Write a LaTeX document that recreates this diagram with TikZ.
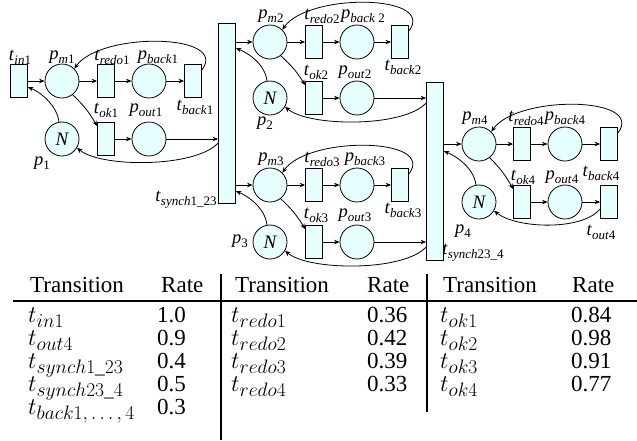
\RequirePackage{fix-cm}
\documentclass[tikz,border=0pt]{standalone}
\usepackage[no-math]{fontspec}
\setmainfont{Liberation Serif}
\usetikzlibrary{arrows.meta,calc}
\definecolor{cellfill}{RGB}{232,255,255}
\newcommand{\lb}[3]{\textit{#1}\raisebox{-4pt}{\fontsize{13}{13}\selectfont\textit{#2}#3}}
\newcommand{\tb}[1]{{\fontsize{24}{26}\selectfont$t$}\raisebox{-5pt}{\fontsize{19.5}{20}\selectfont$#1$}}
\begin{document}
\begin{tikzpicture}[x=1pt,y=-1pt,
  place/.style={circle,draw,fill=cellfill,minimum size=34pt,inner sep=0pt,line width=0.8pt},
  trans/.style={rectangle,draw,fill=cellfill,minimum width=17pt,minimum height=33pt,inner sep=0pt,line width=0.8pt},
  bigtrans/.style={rectangle,draw,fill=cellfill,minimum width=17pt,inner sep=0pt,line width=0.8pt},
  arr/.style={-{Stealth[length=5.5pt,width=4.5pt]},line width=0.8pt},
  lab/.style={inner sep=0pt,font=\fontsize{18.5}{20}\selectfont},
  tab/.style={inner sep=0pt,anchor=base west,font=\fontsize{23}{26}\selectfont},
  rule/.style={line width=1.3pt}]
\useasboundingbox (0,0) rectangle (637,440);

% ---------- block 1
\node[trans] (tin1) at (19,81) {};
\node[place] (pm1) at (62,81) {};
\node[trans] (tredo1) at (106,81) {};
\node[place] (pback1) at (149,81) {};
\node[trans] (tback1) at (193,81) {};
\node[place,font=\fontsize{19}{20}\selectfont\itshape] (N1) at (62,139) {N};
\node[trans] (tok1) at (106,139) {};
\node[place] (pout1) at (149,139) {};
\node[bigtrans,minimum height=180pt] (ts1) at (227,113) {};

% ---------- block 2
\node[place] (pm2) at (270,42) {};
\node[trans] (tredo2) at (314,42) {};
\node[place] (pback2) at (357,42) {};
\node[trans] (tback2) at (400,42) {};
\node[place,font=\fontsize{19}{20}\selectfont\itshape] (N2) at (270,98) {N};
\node[trans] (tok2) at (314,98) {};
\node[place] (pout2) at (357,98) {};

% ---------- block 3
\node[place] (pm3) at (270,185) {};
\node[trans] (tredo3) at (314,185) {};
\node[place] (pback3) at (357,185) {};
\node[trans] (tback3) at (400,185) {};
\node[place,font=\fontsize{19}{20}\selectfont\itshape] (N3) at (270,242) {N};
\node[trans] (tok3) at (314,242) {};
\node[place] (pout3) at (357,242) {};

\node[bigtrans,minimum height=178pt] (ts2) at (435,171) {};

% ---------- block 4
\node[place] (pm4) at (479,144) {};
\node[trans] (tredo4) at (522,144) {};
\node[place] (pback4) at (565,144) {};
\node[trans] (tback4) at (609,144) {};
\node[place,font=\fontsize{19}{20}\selectfont\itshape] (N4) at (479,202) {N};
\node[trans] (tok4) at (522,202) {};
\node[place] (pout4) at (565,202) {};
\node[trans] (tout4) at (609,202) {};

% ---------- labels
\node[lab] (l1) at (20,57) {\lb{t}{in}{1}};
\node[lab] (l2) at (62,57) {\lb{p}{m}{1}};
\node[lab] (l3) at (112,57) {\lb{t}{redo}{1}};
\node[lab] (l4) at (158,57) {\lb{p}{back}{1}};
\node[lab] (l5) at (195,107) {\lb{t}{back}{1}};
\node[lab] (l6) at (106,110) {\lb{t}{ok}{1}};
\node[lab] (l7) at (146,110) {\lb{p}{out}{1}};
\node[lab] (l8) at (42,163) {\lb{p}{}{1}};
\node[lab] (l9) at (186,200) {\lb{t}{synch}{1\_23}};

\node[lab] (m2) at (271,16) {\lb{p}{m}{2}};
\node[lab] (m3) at (322,16) {\lb{t}{redo}{2}};
\node[lab] (m4) at (363,16) {\lb{p}{back}{ 2}};
\node[lab] (m5) at (403,67) {\lb{t}{back}{2}};
\node[lab] (m6) at (316,72) {\lb{t}{ok}{2}};
\node[lab] (m7) at (355,72) {\lb{p}{out}{2}};
\node[lab] (m8) at (265,123) {\lb{p}{}{2}};

\node[lab] (n2) at (271,159) {\lb{p}{m}{3}};
\node[lab] (n3) at (322,159) {\lb{t}{redo}{3}};
\node[lab] (n4) at (365,159) {\lb{p}{back}{3}};
\node[lab] (n5) at (403,210) {\lb{t}{back}{3}};
\node[lab] (n6) at (316,215) {\lb{t}{ok}{3}};
\node[lab] (n7) at (355,215) {\lb{p}{out}{3}};
\node[lab] (n8) at (240,241) {\lb{p}{}{3}};
\node[lab] (n9) at (473,253) {\lb{t}{synch}{23\_4}};

\node[lab] (o2) at (475,118) {\lb{p}{m}{4}};
\node[lab] (o3) at (526,118) {\lb{t}{redo}{4}};
\node[lab] (o4) at (565,118) {\lb{p}{back}{4}};
\node[lab] (o5) at (601,173) {\lb{t}{back}{4}};
\node[lab] (o6) at (523,177) {\lb{t}{ok}{4}};
\node[lab] (o7) at (562,177) {\lb{p}{out}{4}};
\node[lab] (o8) at (463,231) {\lb{p}{}{4}};
\node[lab] (o9) at (601,232) {\lb{t}{out}{4}};

% ---------- arcs block 1
\draw[arr] (tin1) -- (pm1);
\draw[arr] (pm1) -- (tredo1);
\draw[arr] (tredo1) -- (pback1);
\draw[arr] (pback1) -- (tback1);
\draw[arr] ([yshift=11pt]tback1.east) .. controls +(28,-37) and +(26,-37) .. (pm1.45);
\draw[arr] (pm1.-52) to[bend left=8] ([yshift=-4pt]tok1.north west);
\draw[arr] (tok1) -- (pout1);
\draw[arr] (pout1) -- (pout1 -| ts1.west);
\draw[arr] (N1.100) .. controls +(-2,-17) and +(12,5) .. ([yshift=-6pt]tin1.east);
\draw[arr] ([yshift=-30pt]ts1.west) .. controls +(-23,25) and +(23,20) .. (N1.-30);

% ---------- arcs block 2
\draw[arr] (pm2 -| ts1.east) -- (pm2);
\draw[arr] (pm2) -- (tredo2);
\draw[arr] (tredo2) -- (pback2);
\draw[arr] (pback2) -- (tback2);
\draw[arr] ([yshift=11pt]tback2.east) .. controls +(28,-37) and +(26,-37) .. (pm2.45);
\draw[arr] (pm2.-52) to[bend left=8] ([yshift=-4pt]tok2.north west);
\draw[arr] (tok2) -- (pout2);
\draw[arr] (pout2) -- (pout2 -| ts2.west);
\draw[arr] (N2.100) .. controls +(-2,-17) and +(12,5) .. ([yshift=-6pt]pm2 -| ts1.east);
\draw[arr] ([yshift=-5pt]pout2 -| ts2.west) .. controls +(-23,25) and +(23,20) .. (N2.-30);

% ---------- arcs block 3
\draw[arr] (pm3 -| ts1.east) -- (pm3);
\draw[arr] (pm3) -- (tredo3);
\draw[arr] (tredo3) -- (pback3);
\draw[arr] (pback3) -- (tback3);
\draw[arr] ([yshift=11pt]tback3.east) .. controls +(28,-37) and +(26,-37) .. (pm3.45);
\draw[arr] (pm3.-52) to[bend left=8] ([yshift=-4pt]tok3.north west);
\draw[arr] (tok3) -- (pout3);
\draw[arr] (pout3) -- (pout3 -| ts2.west);
\draw[arr] (N3.100) .. controls +(-2,-17) and +(12,5) .. ([yshift=-6pt]pm3 -| ts1.east);
\draw[arr] ([yshift=-5pt]pout3 -| ts2.west) .. controls +(-23,25) and +(23,20) .. (N3.-30);

% ---------- arcs block 4
\draw[arr] (pm4 -| ts2.east) -- (pm4);
\draw[arr] (pm4) -- (tredo4);
\draw[arr] (tredo4) -- (pback4);
\draw[arr] (pback4) -- (tback4);
\draw[arr] ([yshift=11pt]tback4.east) .. controls +(28,-37) and +(26,-37) .. (pm4.45);
\draw[arr] (pm4.-52) to[bend left=8] ([yshift=-4pt]tok4.north west);
\draw[arr] (tok4) -- (pout4);
\draw[arr] (pout4) -- (tout4);
\draw[arr] (N4.100) .. controls +(-2,-17) and +(12,5) .. ([yshift=-7pt]pm4 -| ts2.east);
\draw[arr] ([yshift=-7pt]tout4.west) .. controls +(-18,22) and +(22,18) .. (N4.-30);

% ---------- table
\coordinate (hl) at (13,301);
\coordinate (hr) at (637,301);
\draw[rule] (hl) -- (hr);
\coordinate (v1t) at (221,274);
\coordinate (v1b) at (221,440);
\coordinate (v2t) at (427,274);
\coordinate (v2b) at (427,412);
\draw[rule] (v1t) -- (v1b);
\draw[rule] (v2t) -- (v2b);

\node[tab] (h1) at (30,292) {Transition};
\node[tab] (h2) at (161,292) {Rate};
\node[tab] (h3) at (235,292) {Transition};
\node[tab] (h4) at (367,292) {Rate};
\node[tab] (h5) at (443,292) {Transition};
\node[tab] (h6) at (572,292) {Rate};

\node[tab] (a1) at (28,322) {\tb{in1}};
\node[tab] (a2) at (28,345) {\tb{out4}};
\node[tab] (a3) at (28,368) {\tb{synch1\_23}};
\node[tab] (a4) at (28,391) {\tb{synch23\_4}};
\node[tab] (a5) at (28,414) {\tb{back1,\ldots,4}};
\node[tab] (r1) at (157,322) {1.0};
\node[tab] (r2) at (157,345) {0.9};
\node[tab] (r3) at (157,368) {0.4};
\node[tab] (r4) at (157,391) {0.5};
\node[tab] (r5) at (157,414) {0.3};

\node[tab] (b1) at (231,322) {\tb{redo1}};
\node[tab] (b2) at (231,345) {\tb{redo2}};
\node[tab] (b3) at (231,368) {\tb{redo3}};
\node[tab] (b4) at (231,391) {\tb{redo4}};
\node[tab] (s1) at (367,322) {0.36};
\node[tab] (s2) at (367,345) {0.42};
\node[tab] (s3) at (367,368) {0.39};
\node[tab] (s4) at (367,391) {0.33};

\node[tab] (c1) at (440,322) {\tb{ok1}};
\node[tab] (c2) at (440,345) {\tb{ok2}};
\node[tab] (c3) at (440,368) {\tb{ok3}};
\node[tab] (c4) at (440,391) {\tb{ok4}};
\node[tab] (u1) at (571,322) {0.84};
\node[tab] (u2) at (571,345) {0.98};
\node[tab] (u3) at (571,368) {0.91};
\node[tab] (u4) at (571,391) {0.77};
\end{tikzpicture}
\end{document}
